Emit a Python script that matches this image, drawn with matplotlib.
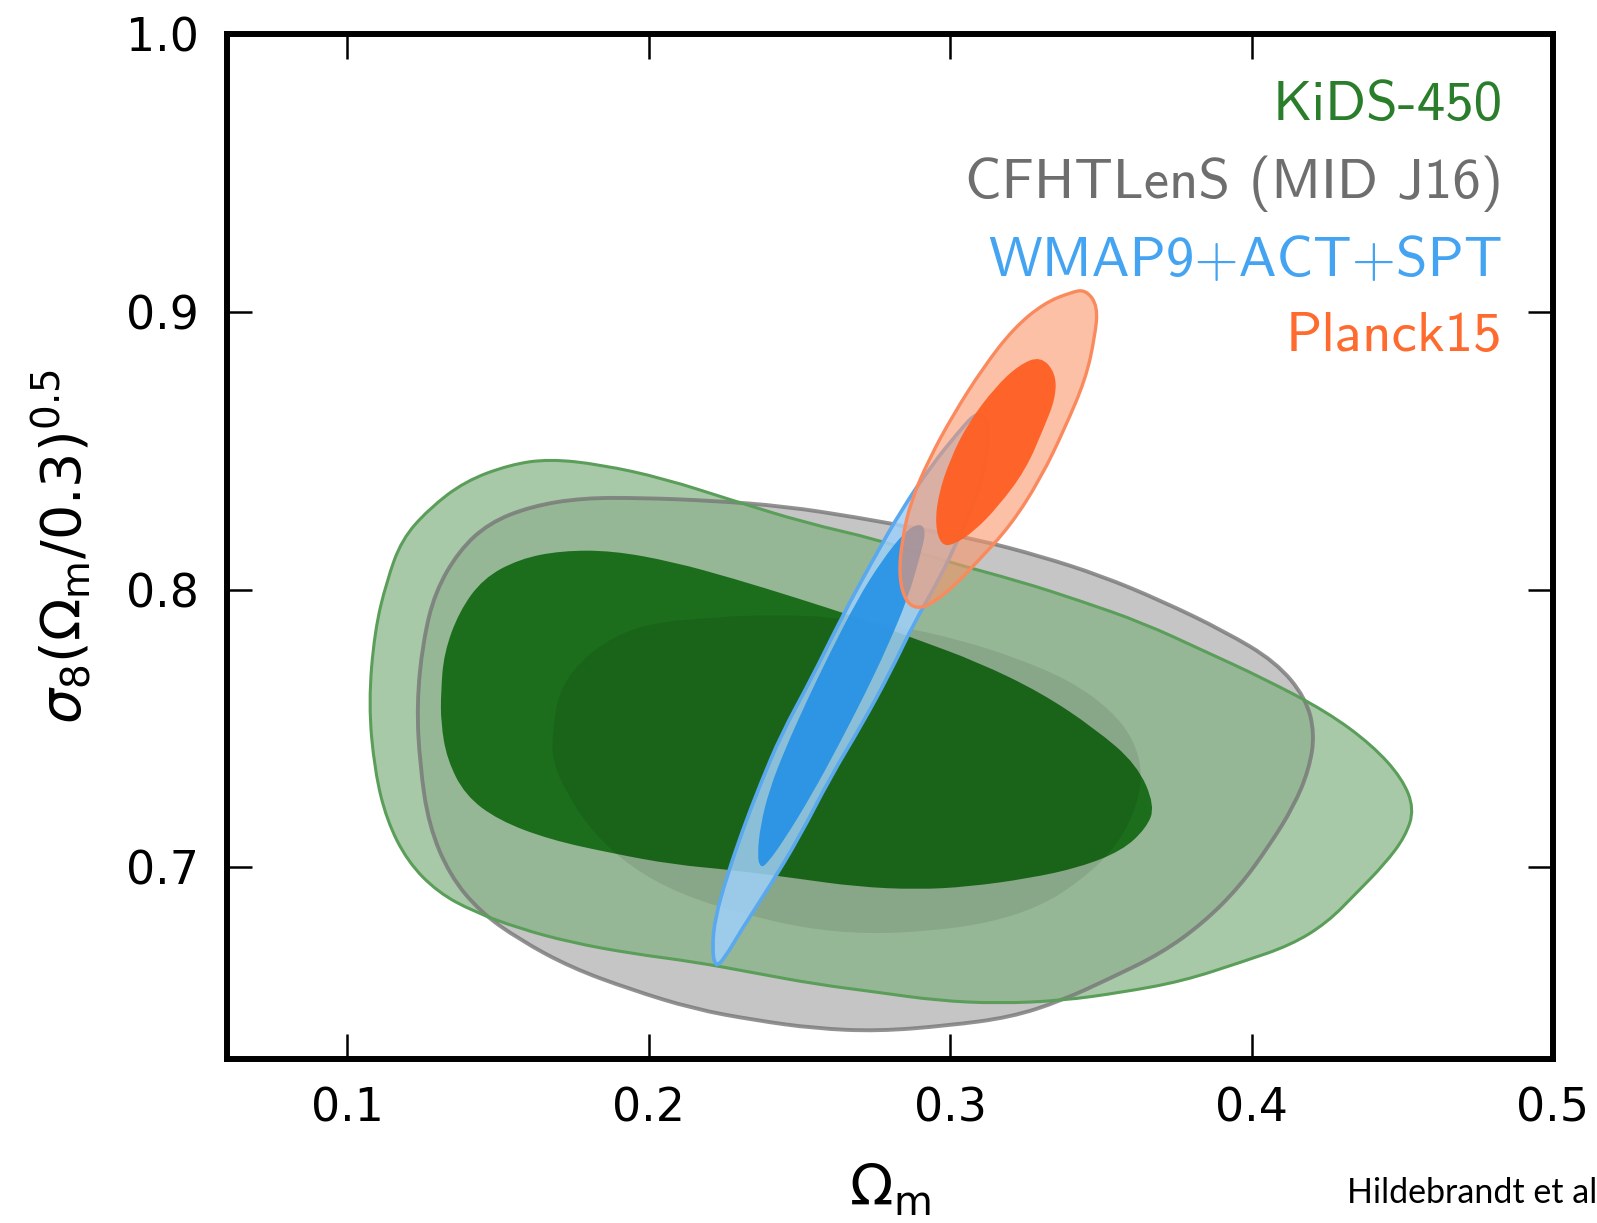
import numpy as np
import matplotlib
matplotlib.use("Agg")
import matplotlib.pyplot as plt
from matplotlib.path import Path
from matplotlib.patches import PathPatch

# contour outlines (Omega_m, S8-like)
kids95_x = [0.107, 0.109, 0.113, 0.118, 0.127, 0.139, 0.154, 0.167, 0.184, 0.205, 0.228, 0.252, 0.276,
            0.299, 0.323, 0.343, 0.364, 0.384, 0.404, 0.425, 0.440, 0.450, 0.454, 0.451, 0.444, 0.435,
            0.425, 0.413, 0.397, 0.377, 0.357, 0.337, 0.316, 0.296, 0.276, 0.255, 0.235, 0.215, 0.194,
            0.174, 0.157, 0.142, 0.130, 0.120, 0.113, 0.109]
kids95_y = [0.759, 0.785, 0.803, 0.818, 0.829, 0.839, 0.845, 0.847, 0.845, 0.840, 0.832, 0.824, 0.818,
            0.810, 0.803, 0.796, 0.788, 0.778, 0.768, 0.756, 0.744, 0.732, 0.721, 0.711, 0.701, 0.691,
            0.680, 0.672, 0.666, 0.659, 0.655, 0.652, 0.651, 0.652, 0.655, 0.658, 0.662, 0.666, 0.669,
            0.673, 0.678, 0.684, 0.691, 0.702, 0.717, 0.735]

kids68_x = [0.131, 0.132, 0.137, 0.145, 0.157, 0.171, 0.188, 0.208, 0.228, 0.249, 0.269, 0.289, 0.309,
            0.330, 0.348, 0.362, 0.368, 0.365, 0.357, 0.343, 0.326, 0.306, 0.289, 0.269, 0.249, 0.228,
            0.208, 0.188, 0.167, 0.150, 0.139, 0.133, 0.131]
kids68_y = [0.763, 0.777, 0.792, 0.804, 0.811, 0.814, 0.814, 0.810, 0.804, 0.797, 0.790, 0.782, 0.774,
            0.763, 0.750, 0.737, 0.722, 0.714, 0.706, 0.700, 0.696, 0.693, 0.692, 0.693, 0.696, 0.699,
            0.701, 0.705, 0.710, 0.717, 0.726, 0.739, 0.752]

cfht95_x = [0.123, 0.125, 0.129, 0.137, 0.147, 0.161, 0.178, 0.198, 0.221, 0.245, 0.269, 0.289, 0.309,
            0.330, 0.350, 0.370, 0.391, 0.408, 0.418, 0.421, 0.419, 0.414, 0.406, 0.396, 0.384, 0.370,
            0.353, 0.337, 0.320, 0.299, 0.276, 0.255, 0.235, 0.215, 0.194, 0.174, 0.157, 0.144, 0.134,
            0.127, 0.124]
cfht95_y = [0.759, 0.781, 0.799, 0.814, 0.824, 0.830, 0.833, 0.833, 0.832, 0.830, 0.826, 0.822, 0.818,
            0.812, 0.805, 0.796, 0.785, 0.774, 0.761, 0.748, 0.735, 0.722, 0.708, 0.693, 0.680, 0.669,
            0.660, 0.652, 0.646, 0.643, 0.641, 0.642, 0.645, 0.649, 0.656, 0.664, 0.674, 0.684, 0.697,
            0.715, 0.737]

cfht68_x = [0.168, 0.170, 0.177, 0.188, 0.201, 0.221, 0.242, 0.262, 0.282, 0.303, 0.323, 0.340, 0.353,
            0.361, 0.364, 0.361, 0.354, 0.343, 0.330, 0.313, 0.293, 0.272, 0.252, 0.232, 0.211, 0.194,
            0.181, 0.172, 0.168]
cfht68_y = [0.748, 0.763, 0.774, 0.783, 0.788, 0.790, 0.791, 0.790, 0.787, 0.782, 0.775, 0.767, 0.757,
            0.746, 0.733, 0.719, 0.706, 0.695, 0.686, 0.680, 0.677, 0.676, 0.678, 0.683, 0.690, 0.700,
            0.713, 0.728, 0.739]

wmap95_x = [0.221, 0.222, 0.226, 0.231, 0.237, 0.244, 0.254, 0.264, 0.274, 0.284, 0.294, 0.303, 0.308,
            0.311, 0.313, 0.312, 0.309, 0.303, 0.297, 0.288, 0.280, 0.271, 0.260, 0.250, 0.240, 0.231,
            0.225, 0.222]
wmap95_y = [0.671, 0.682, 0.697, 0.713, 0.730, 0.748, 0.768, 0.790, 0.810, 0.829, 0.845, 0.857, 0.863,
            0.863, 0.858, 0.847, 0.834, 0.819, 0.805, 0.788, 0.770, 0.752, 0.732, 0.711, 0.693, 0.678,
            0.667, 0.664]

wmap68_x = [0.236, 0.237, 0.240, 0.245, 0.252, 0.260, 0.269, 0.277, 0.285, 0.290, 0.292, 0.290, 0.286,
            0.279, 0.272, 0.263, 0.254, 0.245, 0.239, 0.237]
wmap68_y = [0.704, 0.715, 0.728, 0.742, 0.759, 0.777, 0.796, 0.810, 0.821, 0.824, 0.821, 0.812, 0.797,
            0.779, 0.763, 0.744, 0.726, 0.710, 0.701, 0.700]

planck95_x = [0.345, 0.349, 0.348, 0.345, 0.338, 0.330, 0.320, 0.309, 0.301, 0.294, 0.289, 0.285, 0.283,
              0.284, 0.287, 0.293, 0.301, 0.311, 0.321, 0.331, 0.340]
planck95_y = [0.908, 0.902, 0.891, 0.876, 0.858, 0.840, 0.823, 0.810, 0.801, 0.795, 0.793, 0.796, 0.805,
              0.818, 0.832, 0.847, 0.863, 0.880, 0.894, 0.903, 0.907]

planck68_x = [0.330, 0.335, 0.335, 0.331, 0.325, 0.316, 0.308, 0.301, 0.297, 0.295, 0.296, 0.300, 0.306,
              0.315, 0.323]
planck68_y = [0.884, 0.878, 0.869, 0.858, 0.843, 0.830, 0.821, 0.816, 0.816, 0.823, 0.834, 0.847, 0.860,
              0.873, 0.881]

labels = ['KiDS-450', 'CFHTLenS (MID J16)', 'WMAP9+ACT+SPT', 'Planck15']
label_colors = ['#2a7d2a', '#6e6e6e', '#44a4f2', '#ff6a2e']
label_y = [0.974, 0.946, 0.918, 0.891]


def smooth_path(xs, ys):
    # closed quadratic bezier path using the read points as control points
    p = np.column_stack([xs, ys])
    m = (p + np.roll(p, -1, axis=0)) / 2
    verts = [m[-1]]
    codes = [Path.MOVETO]
    for i in range(len(p)):
        verts += [p[i], m[i]]
        codes += [Path.CURVE3, Path.CURVE3]
    verts.append(m[-1])
    codes.append(Path.CLOSEPOLY)
    return Path(verts, codes)


def add(ax, xs, ys, **kw):
    ax.add_patch(PathPatch(smooth_path(xs, ys), **kw))


fig = plt.figure(figsize=(15.97, 12.23), dpi=100)
ax = fig.add_axes([0.1421, 0.1341, 0.8303, 0.8381])

# CFHTLenS + KiDS
add(ax, cfht95_x, cfht95_y, facecolor='#8c8c8c', alpha=0.5, edgecolor='none')
add(ax, kids95_x, kids95_y, facecolor='#83b283', alpha=0.7, edgecolor='none')
add(ax, cfht95_x, cfht95_y, facecolor='none', edgecolor='#777777', alpha=0.8, lw=2.8)
add(ax, kids95_x, kids95_y, facecolor='none', edgecolor='#5a9e5a', lw=2.2)
add(ax, kids68_x, kids68_y, facecolor='#1c6e1c', edgecolor='none')
add(ax, cfht68_x, cfht68_y, facecolor='black', alpha=0.09, edgecolor='none')

# WMAP
add(ax, wmap95_x, wmap95_y, facecolor='#9fd0fa', alpha=0.85, edgecolor='none')
add(ax, wmap68_x, wmap68_y, facecolor='#2490e6', alpha=0.9, edgecolor='none')
add(ax, wmap95_x, wmap95_y, facecolor='none', edgecolor='#5aa8ee', lw=2.6)

# Planck
add(ax, planck95_x, planck95_y, facecolor='#fa966b', alpha=0.6, edgecolor='none')
add(ax, planck68_x, planck68_y, facecolor='#ff5f22', alpha=0.95, edgecolor='none')
add(ax, planck95_x, planck95_y, facecolor='none', edgecolor='#fa8a5e', lw=2.4)

ax.set_xlim(0.06, 0.5)
ax.set_ylim(0.631, 1.0)
ax.set_xticks([0.1, 0.2, 0.3, 0.4, 0.5])
ax.set_yticks([0.7, 0.8, 0.9, 1.0])
ax.set_xticklabels(['0.1', '0.2', '0.3', '0.4', '0.5'])
ax.set_yticklabels(['0.7', '0.8', '0.9', '1.0'])
ax.tick_params(direction='in', length=18, width=1.8, labelsize=33, pad=20,
               top=True, right=True)
for s in ax.spines.values():
    s.set_linewidth(4.3)

ax.set_xlabel(r'$\Omega_{\rm m}$', fontsize=41, labelpad=22)
ax.set_ylabel(r'$\sigma_8(\Omega_{\rm m}/0.3)^{0.5}$', fontsize=40, labelpad=24)

for lab, c, yy in zip(labels, label_colors, label_y):
    ax.text(0.4833, yy, lab, color=c, fontsize=41, ha='right', va='center',
            family=['cmss10', 'DejaVu Sans'])

fig.text(0.8435, 0.0164, 'Hildebrandt et al', fontsize=24.5, family='Lato',
         ha='left', va='baseline')

fig.savefig('out.png', dpi=100)
